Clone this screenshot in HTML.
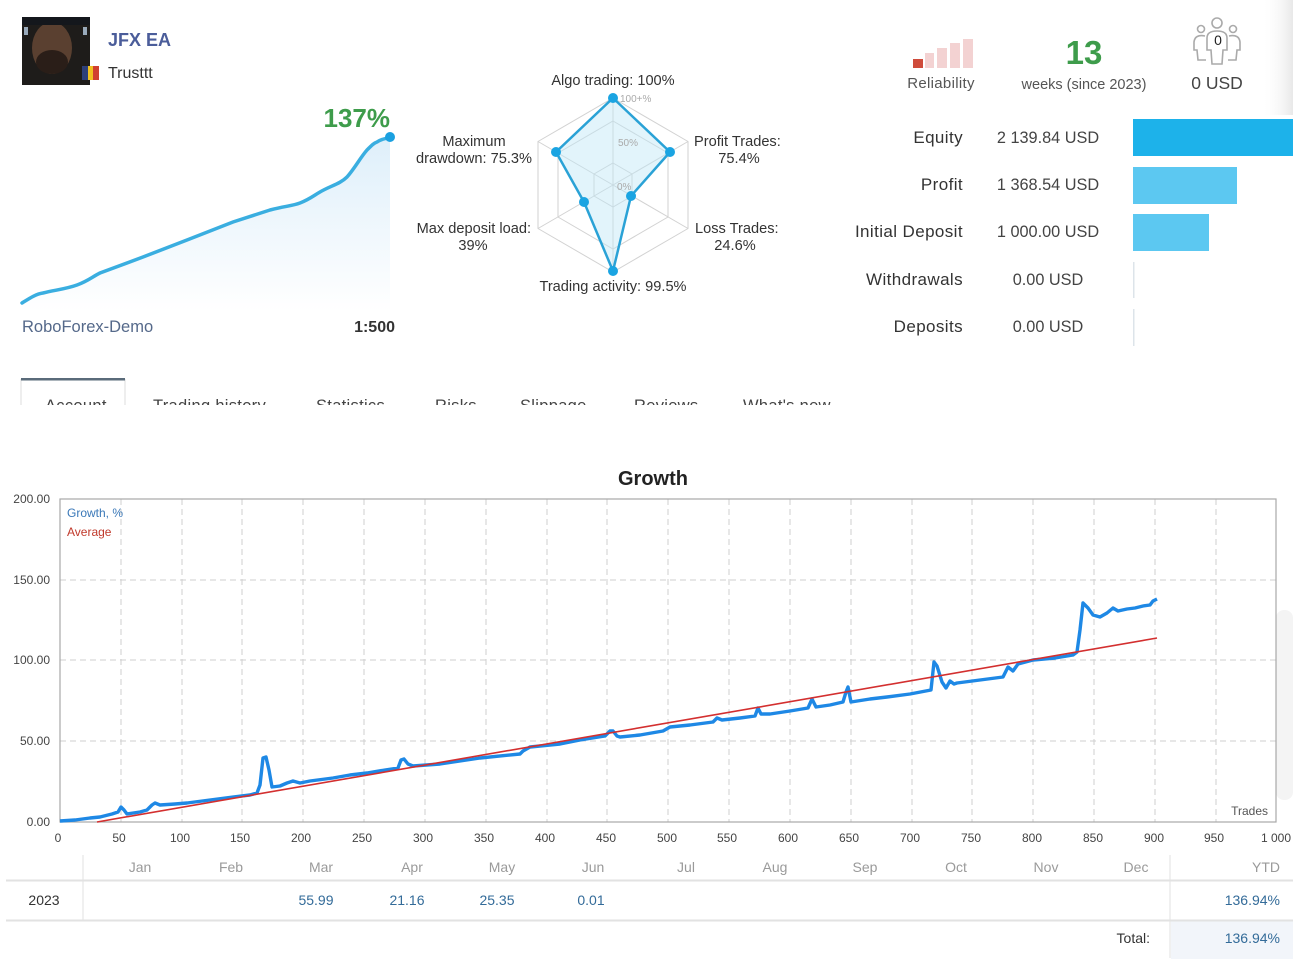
<!DOCTYPE html>
<html><head><meta charset="utf-8"><style>
html,body{margin:0;padding:0;background:#fff;width:1293px;height:967px;overflow:hidden}
svg{display:block;font-family:"Liberation Sans",Tahoma,sans-serif}
</style></head><body>
<svg width="1293" height="967" viewBox="0 0 1293 967" xmlns="http://www.w3.org/2000/svg">
<defs>
<linearGradient id="mg" x1="0" y1="0" x2="0" y2="1">
<stop offset="0" stop-color="#d6ebf9"/><stop offset="1" stop-color="#ffffff"/>
</linearGradient>
<linearGradient id="sh" x1="0" y1="0" x2="1" y2="0">
<stop offset="0" stop-color="#ffffff" stop-opacity="0"/><stop offset="1" stop-color="#e8e8e8"/>
</linearGradient>
<clipPath id="tabclip"><rect x="0" y="370" width="900" height="35"/></clipPath>
</defs>

<!-- right edge shadows -->
<rect x="1262" y="0" width="31" height="115" fill="url(#sh)"/>
<rect x="1276" y="610" width="17" height="190" rx="8" fill="#f4f4f4"/>

<!-- avatar -->
<rect x="22" y="17" width="68" height="68" fill="#1e1c1a"/>
<ellipse cx="52" cy="48" rx="20" ry="26" fill="#5a4030"/>
<ellipse cx="52" cy="62" rx="16" ry="12" fill="#2a1e18"/>
<rect x="22" y="17" width="68" height="8" fill="#14171c"/>
<rect x="24" y="27" width="4" height="8" fill="#9ab"/>
<rect x="83" y="27" width="4" height="8" fill="#9ab"/>
<rect x="82" y="66" width="6" height="14" fill="#2d3f7a"/>
<rect x="88" y="66" width="5" height="14" fill="#f0c020"/>
<rect x="93" y="66" width="6" height="14" fill="#d04030"/>
<text x="108" y="46" font-size="18" font-weight="bold" fill="#4b5d9a">JFX EA</text>
<text x="108" y="78" font-size="16" fill="#333">Trusttt</text>

<!-- mini chart -->
<path d="M22,303 L43,293 L77,285 L100,273 L143,257 L187,240 L233,222 L270,210 L300,203 L320,192 L347,177 L358,164 L367,150 L377,142 L390,138 L390,312 L22,312 Z" fill="url(#mg)" opacity="0.8"/>
<path d="M22,303 C30,298 36,294 43,293 C55,290 66,289 77,285 C88,281 92,277 100,273 L143,257 L187,240 L233,222 L270,210 C285,206 292,206 300,203 C310,199 313,196 320,192 C330,186 340,184 347,177 C355,168 360,158 367,150 C372,145 374,143 377,142 C382,139 386,138 390,138" fill="none" stroke="#3aaee0" stroke-width="3.5" stroke-linecap="round"/>
<circle cx="390" cy="137" r="5" fill="#1aa0e0"/>
<text x="390" y="127" font-size="26" font-weight="bold" fill="#3e9c4b" text-anchor="end">137%</text>
<text x="22" y="332" font-size="16.5" fill="#55698a">RoboForex-Demo</text>
<text x="395" y="332" font-size="16" font-weight="bold" fill="#333" text-anchor="end">1:500</text>

<!-- tabs -->
<line x1="21" y1="379" x2="21" y2="405" stroke="#ddd"/>
<line x1="125" y1="379" x2="125" y2="405" stroke="#ddd"/>
<rect x="21" y="378" width="104" height="2.5" fill="#5a6b7a"/>
<g clip-path="url(#tabclip)" font-size="16.5" fill="#444" letter-spacing="0.3">
<text x="45" y="411">Account</text>
<text x="153" y="411">Trading history</text>
<text x="316" y="411">Statistics</text>
<text x="435" y="411">Risks</text>
<text x="520" y="411">Slippage</text>
<text x="634" y="411">Reviews</text>
<text x="743" y="411">What's new</text>
</g>

<!-- radar -->
<g fill="none" stroke="#d2d2d2" stroke-width="1">
<polygon points="613,98 688,141.5 688,228.5 613,272 538,228.5 538,141.5"/>
<polygon points="613,121 668,153 668,217 613,249 558,217 558,153"/>
<polygon points="613,163 632,174 632,196 613,207 594,196 594,174"/>
<line x1="613" y1="185" x2="613" y2="98"/><line x1="613" y1="185" x2="688" y2="141.5"/>
<line x1="613" y1="185" x2="688" y2="228.5"/><line x1="613" y1="185" x2="613" y2="272"/>
<line x1="613" y1="185" x2="538" y2="228.5"/><line x1="613" y1="185" x2="538" y2="141.5"/>
</g>
<polygon points="613,98 670,152 631,196 613,271 584,202 556,152" fill="#bfe6f7" fill-opacity="0.45" stroke="#2aa2d6" stroke-width="2.5" stroke-linejoin="round"/>
<g fill="#1aa4e2">
<circle cx="613" cy="98" r="5"/><circle cx="670" cy="152" r="5"/><circle cx="631" cy="196" r="5"/>
<circle cx="613" cy="271" r="5"/><circle cx="584" cy="202" r="5"/><circle cx="556" cy="152" r="5"/>
</g>
<g font-size="10" fill="#aaa">
<text x="620" y="102">100+%</text><text x="618" y="146">50%</text><text x="617" y="190">0%</text>
</g>
<g font-size="14.6" fill="#333">
<text x="613" y="85" text-anchor="middle">Algo trading: 100%</text>
<text x="694" y="146">Profit Trades:</text>
<text x="739" y="163" text-anchor="middle">75.4%</text>
<text x="695" y="233">Loss Trades:</text>
<text x="735" y="250" text-anchor="middle">24.6%</text>
<text x="613" y="291" text-anchor="middle">Trading activity: 99.5%</text>
<text x="531" y="233" text-anchor="end">Max deposit load:</text>
<text x="473" y="250" text-anchor="middle">39%</text>
<text x="474" y="146" text-anchor="middle">Maximum</text>
<text x="532" y="163" text-anchor="end">drawdown: 75.3%</text>
</g>

<!-- reliability -->
<rect x="913" y="59" width="10" height="9" fill="#cf4b3b"/>
<rect x="925" y="53" width="9" height="15" fill="#f3d2d2"/>
<rect x="937" y="48" width="10" height="20" fill="#f3d2d2"/>
<rect x="950" y="43" width="10" height="25" fill="#f3d2d2"/>
<rect x="963" y="39" width="10" height="29" fill="#f3d2d2"/>
<text x="941" y="88" font-size="15" fill="#555" text-anchor="middle" letter-spacing="0.3">Reliability</text>
<text x="1084" y="64" font-size="33" font-weight="bold" fill="#3e9c4b" text-anchor="middle">13</text>
<text x="1084" y="89" font-size="14.5" fill="#555" text-anchor="middle">weeks (since 2023)</text>

<!-- people icon -->
<g fill="none" stroke="#aaa" stroke-width="1.6">
<circle cx="1217" cy="23" r="5"/>
<circle cx="1201" cy="29" r="3.5"/>
<circle cx="1233" cy="29" r="3.5"/>
<path d="M1207,38 Q1207,31 1217,31 Q1227,31 1227,38 L1227,50 L1223,50 L1222,64 L1212,64 L1211,50 L1207,50 Z"/>
<path d="M1205,36 Q1195,34 1194,42 L1194,50 L1197,50 L1198,60 L1206,60"/>
<path d="M1229,36 Q1239,34 1240,42 L1240,50 L1237,50 L1236,60 L1228,60"/>
</g>
<text x="1218" y="45" font-size="14" fill="#222" text-anchor="middle">0</text>
<text x="1217" y="89" font-size="17.5" fill="#444" text-anchor="middle">0 USD</text>

<!-- stats rows -->
<g font-size="17" fill="#333" text-anchor="end" letter-spacing="0.4">
<text x="963" y="143">Equity</text>
<text x="963" y="190">Profit</text>
<text x="963" y="237">Initial Deposit</text>
<text x="963" y="285">Withdrawals</text>
<text x="963" y="332">Deposits</text>
</g>
<g font-size="16.3" fill="#444" text-anchor="middle">
<text x="1048" y="143">2 139.84 USD</text>
<text x="1048" y="190">1 368.54 USD</text>
<text x="1048" y="237">1 000.00 USD</text>
<text x="1048" y="285">0.00 USD</text>
<text x="1048" y="332">0.00 USD</text>
</g>
<rect x="1133" y="119" width="160" height="37" fill="#1db2ea"/>
<rect x="1133" y="167" width="104" height="37" fill="#5cc8f1"/>
<rect x="1133" y="214" width="76" height="37" fill="#5cc8f1"/>
<rect x="1133" y="262" width="1.5" height="36" fill="#dde4ea"/>
<rect x="1133" y="309" width="1.5" height="37" fill="#dde4ea"/>

<!-- Growth chart -->
<text x="653" y="485" font-size="20" font-weight="bold" fill="#222" text-anchor="middle">Growth</text>
<g stroke="#cfcfcf" stroke-width="1" stroke-dasharray="6,4">
<line x1="60" y1="580" x2="1276" y2="580"/>
<line x1="60" y1="660" x2="1276" y2="660"/>
<line x1="60" y1="741" x2="1276" y2="741"/>
<line x1="121" y1="499" x2="121" y2="822"/><line x1="182" y1="499" x2="182" y2="822"/>
<line x1="242" y1="499" x2="242" y2="822"/><line x1="303" y1="499" x2="303" y2="822"/>
<line x1="364" y1="499" x2="364" y2="822"/><line x1="425" y1="499" x2="425" y2="822"/>
<line x1="486" y1="499" x2="486" y2="822"/><line x1="547" y1="499" x2="547" y2="822"/>
<line x1="607" y1="499" x2="607" y2="822"/><line x1="668" y1="499" x2="668" y2="822"/>
<line x1="729" y1="499" x2="729" y2="822"/><line x1="790" y1="499" x2="790" y2="822"/>
<line x1="851" y1="499" x2="851" y2="822"/><line x1="912" y1="499" x2="912" y2="822"/>
<line x1="972" y1="499" x2="972" y2="822"/><line x1="1033" y1="499" x2="1033" y2="822"/>
<line x1="1094" y1="499" x2="1094" y2="822"/><line x1="1155" y1="499" x2="1155" y2="822"/>
<line x1="1216" y1="499" x2="1216" y2="822"/>
</g>
<rect x="60" y="499" width="1216" height="323" fill="none" stroke="#a8a8a8" stroke-width="1.2"/>
<g font-size="12" fill="#444" text-anchor="end">
<text x="50" y="503">200.00</text>
<text x="50" y="584">150.00</text>
<text x="50" y="664">100.00</text>
<text x="50" y="745">50.00</text>
<text x="50" y="826">0.00</text>
</g>
<g font-size="12" fill="#444" text-anchor="middle">
<text x="58" y="842">0</text><text x="119" y="842">50</text><text x="180" y="842">100</text>
<text x="240" y="842">150</text><text x="301" y="842">200</text><text x="362" y="842">250</text>
<text x="423" y="842">300</text><text x="484" y="842">350</text><text x="545" y="842">400</text>
<text x="606" y="842">450</text><text x="667" y="842">500</text><text x="727" y="842">550</text>
<text x="788" y="842">600</text><text x="849" y="842">650</text><text x="910" y="842">700</text>
<text x="971" y="842">750</text><text x="1032" y="842">800</text><text x="1093" y="842">850</text>
<text x="1154" y="842">900</text><text x="1214" y="842">950</text><text x="1276" y="842">1 000</text>
</g>
<text x="1268" y="815" font-size="12" fill="#555" text-anchor="end">Trades</text>
<text x="67" y="517" font-size="12" fill="#3a78b8">Growth, %</text>
<text x="67" y="536" font-size="12" fill="#c0392b">Average</text>

<polyline fill="none" stroke="#1e88e5" stroke-width="3.4" stroke-linejoin="round" points="60,821 75,820 90,818 100,817 112,814 118,812 121,807 124,810 127,814 140,812 147,810 152,805 155,803 160,805 175,804 187,803 210,800 233,797 250,795 257,793 260,785 263,758 266,757 269,770 272,787 280,786 287,783 293,781 300,783 310,781 333,778 350,775 367,773 385,770 398,768 401,760 404,759 408,764 413,766 440,764 460,761 480,758 520,754 523,751 530,747 560,744 580,740 605,736 610,731 613,731 617,736 620,737 640,735 663,731 670,727 690,725 713,722 717,718 722,720 740,718 755,716 758,708 761,714 770,714 790,711 808,708 812,699 816,707 830,705 843,702 846,692 848,687 851,702 870,699 887,697 910,694 931,690 934,662 937,666 942,682 946,688 950,681 954,684 957,683 980,680 1003,677 1008,667 1013,671 1018,664 1033,660 1055,658 1073,655 1077,652 1080,630 1083,603 1088,608 1093,615 1100,617 1107,613 1113,608 1118,611 1127,609 1135,608 1143,606 1150,605 1153,601 1157,599"/>
<line x1="97" y1="822" x2="1157" y2="638" stroke="#d32f2f" stroke-width="1.6"/>

<!-- table -->
<rect x="1171" y="921" width="122" height="38" fill="#f2f5fa"/>
<line x1="6" y1="880.5" x2="1293" y2="880.5" stroke="#e2e2e2" stroke-width="2"/>
<line x1="6" y1="920.5" x2="1293" y2="920.5" stroke="#e2e2e2" stroke-width="2"/>
<line x1="83" y1="855" x2="83" y2="920" stroke="#e2e2e2"/>
<line x1="1170" y1="855" x2="1170" y2="958" stroke="#e2e2e2"/>
<g font-size="14" fill="#9a9a9a" text-anchor="middle">
<text x="140" y="872">Jan</text><text x="231" y="872">Feb</text><text x="321" y="872">Mar</text>
<text x="412" y="872">Apr</text><text x="502" y="872">May</text><text x="593" y="872">Jun</text>
<text x="686" y="872">Jul</text><text x="775" y="872">Aug</text><text x="865" y="872">Sep</text>
<text x="956" y="872">Oct</text><text x="1046" y="872">Nov</text><text x="1136" y="872">Dec</text>
<text x="1280" y="872" text-anchor="end">YTD</text>
</g>
<text x="44" y="905" font-size="14" fill="#333" text-anchor="middle">2023</text>
<g font-size="14" fill="#336b99" text-anchor="middle">
<text x="316" y="905">55.99</text><text x="407" y="905">21.16</text>
<text x="497" y="905">25.35</text><text x="591" y="905">0.01</text>
<text x="1280" y="905" text-anchor="end">136.94%</text>
<text x="1280" y="943" text-anchor="end">136.94%</text>
</g>
<text x="1150" y="943" font-size="14" fill="#333" text-anchor="end">Total:</text>
</svg>
</body></html>
